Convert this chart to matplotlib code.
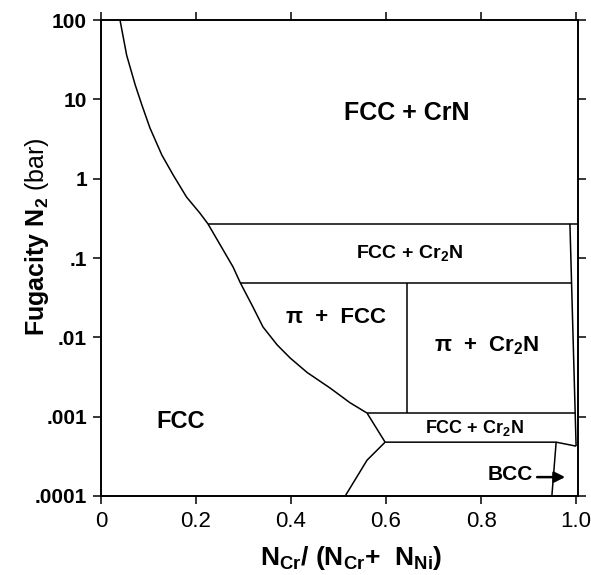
import matplotlib
matplotlib.use("Agg")
import matplotlib.pyplot as plt

plt.rcParams["font.family"] = ["Liberation Sans", "DejaVu Sans"]
plt.rcParams["mathtext.fontset"] = "custom"
plt.rcParams["mathtext.rm"] = "Liberation Sans"
plt.rcParams["mathtext.bf"] = "Liberation Sans:bold"
plt.rcParams["mathtext.it"] = "Liberation Sans:italic"

# FCC / (FCC + nitride) boundary
fcc_x = [0.040, 0.054, 0.072, 0.086, 0.103, 0.128, 0.152, 0.180, 0.208,
         0.225, 0.278, 0.293, 0.320, 0.341, 0.371, 0.398, 0.434, 0.482,
         0.524, 0.560]
fcc_y = [100, 36, 15.2, 8.5, 4.36, 1.99, 1.11, 0.587, 0.369,
         0.27, 0.077, 0.049, 0.024, 0.0135, 0.0080, 0.0055, 0.0036, 0.0023,
         0.0015, 0.00111]

# left edge of the lower FCC + Cr2N strip
strip_x = [0.560, 0.598]
strip_y = [0.00111, 0.000477]

# FCC / BCC boundary
bcc_x = [0.598, 0.560, 0.514]
bcc_y = [0.000477, 0.000283, 0.0001]

# horizontal tie lines: (y, x_start, x_end)
h_y = [0.27, 0.049, 0.00111]
h_x0 = [0.225, 0.293, 0.560]
h_x1 = [1.004, 0.991, 0.998]

# bottom of lower strip, bending to the right edge
low_x = [0.598, 0.958, 1.000]
low_y = [0.000477, 0.000477, 0.000425]

# near-vertical line at the Cr-rich edge
edge_x = [0.987, 1.000]
edge_y = [0.27, 0.000425]

# pi+FCC / pi+Cr2N divider
div_x = [0.644, 0.644]
div_y = [0.049, 0.00111]

# BCC right boundary
bccr_x = [0.958, 0.949]
bccr_y = [0.000477, 0.0001]

xticks = [0, 0.2, 0.4, 0.6, 0.8, 1.0]
xlabels = ["0", "0.2", "0.4", "0.6", "0.8", "1.0"]
yticks = [1e-4, 1e-3, 1e-2, 1e-1, 1, 10, 100]
ylabels = [".0001", ".001", ".01", ".1", "1", "10", "100"]

fig = plt.figure(figsize=(5.91, 5.75), dpi=100)
ax = fig.add_axes([0.1709, 0.1374, 0.8071, 0.8278])
lw = 1.1
kw = dict(color="black", lw=lw, solid_capstyle="butt")

ax.plot(fcc_x, fcc_y, **kw)
ax.plot(strip_x, strip_y, **kw)
ax.plot(bcc_x, bcc_y, **kw)
for y, x0, x1 in zip(h_y, h_x0, h_x1):
    ax.plot([x0, x1], [y, y], **kw)
ax.plot(low_x, low_y, **kw)
ax.plot(edge_x, edge_y, **kw)
ax.plot(div_x, div_y, **kw)
ax.plot(bccr_x, bccr_y, **kw)

ax.set_yscale("log")
ax.set_xlim(0, 1.004)
ax.set_ylim(1e-4, 100)
ax.set_xticks(xticks)
ax.set_xticklabels(xlabels, fontsize=16)
ax.set_yticks(yticks)
ax.set_yticklabels(ylabels, fontsize=15, fontweight="bold")
ax.minorticks_off()
ax.tick_params(direction="out", length=6, width=1.1, top=True, right=True)
ax.tick_params(axis="x", pad=5)
ax.tick_params(axis="y", pad=4)
for s in ax.spines.values():
    s.set_linewidth(1.4)

ax.set_xlabel(r"N$_{\mathbf{Cr}}$/ (N$_{\mathbf{Cr}}$+  N$_{\mathbf{Ni}}$)",
              fontsize=19, fontweight="bold")
ax.xaxis.set_label_coords(0.524, -0.100)
ax.set_ylabel(r"$\mathbf{Fugacity\ N_2}$ (bar)", fontsize=18)
ax.yaxis.set_label_coords(-0.104, 0.544)

ax.text(0.644, 6.7, "FCC + CrN", fontsize=18, fontweight="bold",
        ha="center", va="center")
ax.text(0.650, 0.1156, r"FCC + Cr$_{\mathbf{2}}$N", fontsize=14,
        fontweight="bold", ha="center", va="center")
ax.text(0.495, 0.018, "π  +  FCC", fontsize=16, fontweight="bold",
        ha="center", va="center")
ax.text(0.813, 0.00778, r"π  +  Cr$_{\mathbf{2}}$N", fontsize=16,
        fontweight="bold", ha="center", va="center")
ax.text(0.787, 0.00072, r"FCC + Cr$_{\mathbf{2}}$N", fontsize=13,
        fontweight="bold", ha="center", va="center")
ax.text(0.168, 0.000857, "FCC", fontsize=17, fontweight="bold",
        ha="center", va="center")
ax.text(0.861, 0.000189, "BCC", fontsize=15, fontweight="bold",
        ha="center", va="center")
ax.annotate("", xy=(0.977, 0.000173), xytext=(0.918, 0.000173),
            arrowprops=dict(arrowstyle="-|>", color="black", lw=1.8,
                            mutation_scale=16, shrinkA=0, shrinkB=0))

fig.savefig("out.png", dpi=100)
